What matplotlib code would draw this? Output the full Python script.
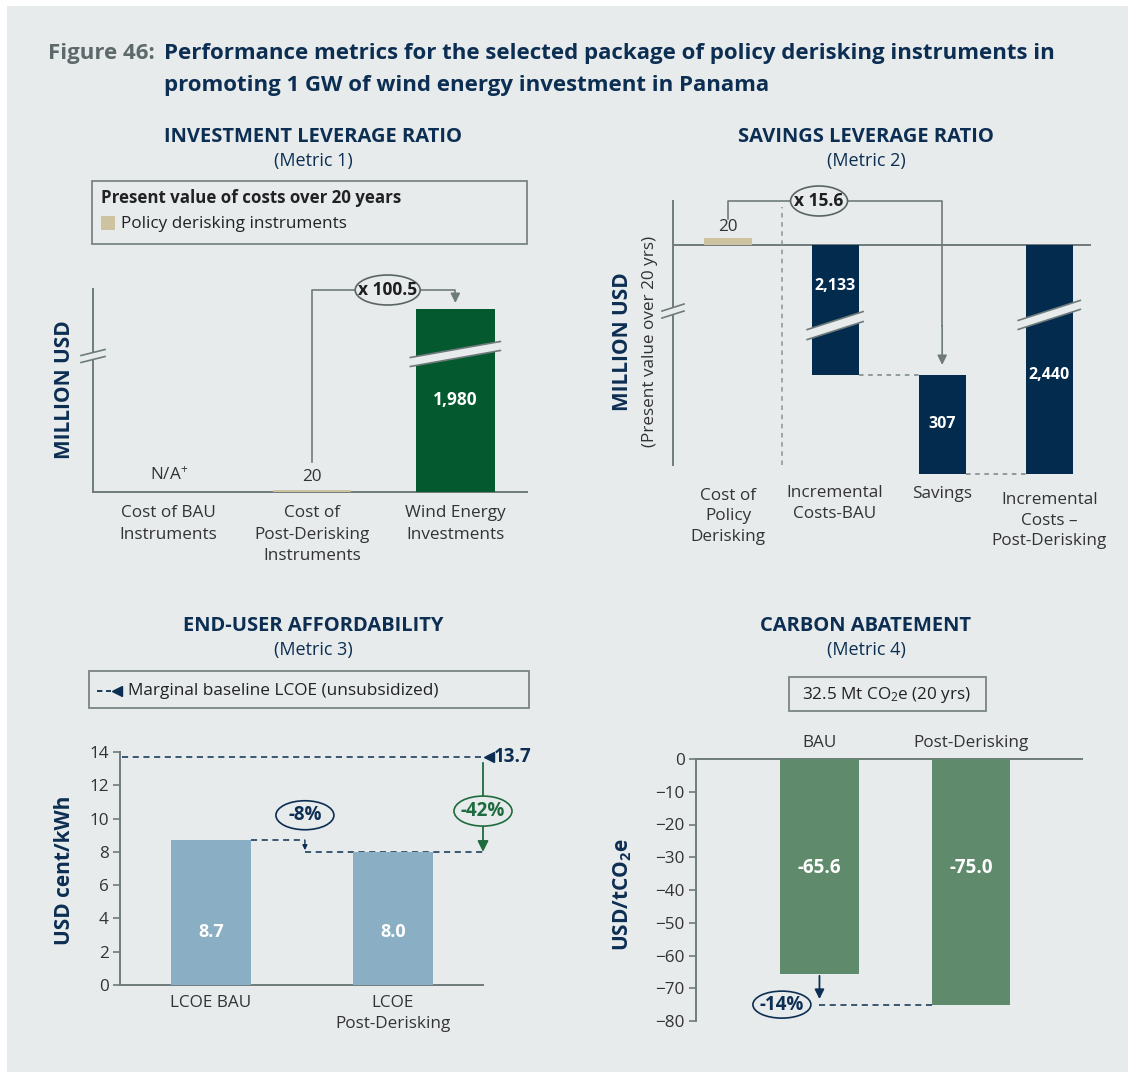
import numpy as np
import matplotlib.pyplot as plt
from matplotlib import patches, transforms
from matplotlib.lines import Line2D

plt.rcParams['font.family'] = ['Open Sans', 'DejaVu Sans']
plt.rcParams['mathtext.default'] = 'regular'

# ---------------- data ----------------
inv_labels = ['Cost of BAU\nInstruments', 'Cost of\nPost-Derisking\nInstruments', 'Wind Energy\nInvestments']
inv_values = [0, 20, 1980]          # BAU instruments: N/A
inv_value_text = [r'N/A$^{+}$', '20', '1,980']
inv_ratio = 'x 100.5'

sav_labels = ['Cost of\nPolicy\nDerisking', 'Incremental\nCosts-BAU', 'Savings',
              'Incremental\nCosts \u2013\nPost-Derisking']
sav_derisking = 20
sav_incr_bau = 2133
sav_savings = 307
sav_incr_post = 2440
sav_value_text = ['20', '2,133', '307', '2,440']
sav_ratio = 'x 15.6'

lcoe_labels = ['LCOE BAU', 'LCOE\nPost-Derisking']
lcoe_values = [8.7, 8.0]
lcoe_baseline = 13.7
lcoe_changes = ['-8%', '-42%']
lcoe_ticks = [0, 2, 4, 6, 8, 10, 12, 14]

abate_labels = ['BAU', 'Post-Derisking']
abate_values = [-65.6, -75.0]
abate_change = '-14%'
abate_ticks = [0, -10, -20, -30, -40, -50, -60, -70, -80]
abate_total = '32.5 Mt CO$_2$e (20 yrs)'

# ---------------- style ----------------
BG = '#E7EBEC'
NAVY = '#0C2E52'
GREY_T = '#5E6A6A'
LINE = '#6F7B7B'
TXT = '#333333'
DKGREEN = '#04592F'
TAN = '#CEC3A0'
NAVYBAR = '#022B4E'
BLUE = '#8AAFC5'
SAGE = '#5F8A6C'
GREEN = '#1E6B3D'
OVAL = '#5A6464'

W, H = 1128, 1072
fig = plt.figure(figsize=(W / 100, H / 100), dpi=100)
fig.patch.set_facecolor('white')
fig.add_artist(patches.Rectangle((7 / W, 0), 1, 1 - 6 / H, transform=fig.transFigure,
                                 facecolor=BG, edgecolor='none', zorder=0))


def fx(x):
    return x / W


def fy(y):
    return 1 - y / H


def pax(x0, y0, x1, y1):
    ax = fig.add_axes([fx(x0), fy(y1), (x1 - x0) / W, (y1 - y0) / H])
    ax.set_facecolor('none')
    for s in ax.spines.values():
        s.set_visible(False)
        s.set_color(LINE)
        s.set_linewidth(1.4)
    return ax


def ftext(x, y, s, **kw):
    fig.text(fx(x), fy(y), s, **kw)


def fbox(x0, y0, x1, y1):
    fig.add_artist(patches.Rectangle((fx(x0), fy(y1)), (x1 - x0) / W, (y1 - y0) / H,
                                     transform=fig.transFigure, facecolor='none',
                                     edgecolor='#7A8484', lw=1.3))


def oval(ax, x, y, w, h, text, color, edge=None, size=12.5):
    tr = fig.dpi_scale_trans + transforms.ScaledTranslation(x, y, ax.transData)
    ax.add_patch(patches.Ellipse((0, 0), w / 100, h / 100, transform=tr, facecolor=BG,
                                 edgecolor=edge or color, lw=1.2, clip_on=False, zorder=6))
    ax.text(x, y, text, ha='center', va='center', color=color, fontsize=size,
            weight='bold', zorder=7, clip_on=False)


def brk(ax, x, y, half_w, rise, gap):
    tr = fig.dpi_scale_trans + transforms.ScaledTranslation(x, y, ax.transData)
    hw, r, g = half_w / 100, rise / 200, gap / 200
    ax.add_patch(patches.Polygon([(-hw, -r - g), (hw, r - g), (hw, r + g), (-hw, -r + g)],
                                 closed=True, facecolor=BG, edgecolor='none', transform=tr,
                                 clip_on=False, zorder=5))
    for s in (-g, g):
        ax.add_line(Line2D([-hw, hw], [-r + s, r + s], color=LINE, lw=1.2, transform=tr,
                           clip_on=False, zorder=5))


# ---------------- title ----------------
ftext(48, 53, 'Figure 46:', color=GREY_T, fontsize=16, weight='bold', va='center')
ftext(164, 53, 'Performance metrics for the selected package of policy derisking instruments in',
      color=NAVY, fontsize=16, weight='bold', va='center')
ftext(164, 85, 'promoting 1 GW of wind energy investment in Panama',
      color=NAVY, fontsize=16, weight='bold', va='center')

for cx, cy, t, m in [(313, 137, 'INVESTMENT LEVERAGE RATIO', '(Metric 1)'),
                     (866, 137, 'SAVINGS LEVERAGE RATIO', '(Metric 2)'),
                     (313, 626, 'END-USER AFFORDABILITY', '(Metric 3)'),
                     (866, 626, 'CARBON ABATEMENT', '(Metric 4)')]:
    ftext(cx, cy, t, color=NAVY, fontsize=14.5, weight='bold', ha='center', va='center')
    ftext(cx, cy + 24, m, color=NAVY, fontsize=13, ha='center', va='center')

# ---------------- panel 1: investment leverage ----------------
fbox(92, 181, 527, 244)
ftext(101, 198, 'Present value of costs over 20 years', color='#222222', fontsize=12.2,
      weight='bold', va='center')
fig.add_artist(patches.Rectangle((fx(101), fy(230)), 14 / W, 14 / H, transform=fig.transFigure,
                                 facecolor=TAN, edgecolor='none'))
ftext(121, 224, 'Policy derisking instruments', color='#222222', fontsize=12.3, va='center')

ax1 = pax(93, 289, 527, 492)
x1 = np.arange(len(inv_labels))
ax1.set_xlim(-0.528, 2.5)
ax1.set_ylim(0, 2196)
ax1.spines['left'].set_visible(True)
ax1.spines['bottom'].set_visible(True)
ax1.set_xticks([])
ax1.set_yticks([])
ax1.bar(x1[1:], inv_values[1:], width=0.55, color=[TAN, DKGREEN], zorder=3)
ax1.annotate(inv_value_text[0], (x1[0], 0), xytext=(0, 8), textcoords='offset pixels',
             ha='center', va='bottom', fontsize=12.3, color=TXT)
ax1.annotate(inv_value_text[1], (x1[1], inv_values[1]), xytext=(0, 5), textcoords='offset pixels',
             ha='center', va='bottom', fontsize=12.3, color=TXT)
ax1.text(x1[2], inv_values[2] / 2, inv_value_text[2], ha='center', va='center', color='white',
         fontsize=12.5, weight='bold', zorder=4)
for xi, lab in zip(x1, inv_labels):
    ax1.text(xi, -0.065, lab, transform=ax1.get_xaxis_transform(), ha='center', va='top',
             fontsize=12.3, color=TXT, linespacing=1.45)
# bracket arrow
top1 = 2185
ax1.plot([x1[1], x1[1], x1[2], x1[2]], [325, top1, top1, top1 - 40], color=LINE, lw=1.2,
         clip_on=False, zorder=2)
ax1.annotate('', xy=(x1[2], inv_values[2] + 65), xytext=(x1[2], top1 - 40),
             arrowprops=dict(arrowstyle='-|>', color=LINE, lw=1.2, mutation_scale=14,
                             shrinkA=0, shrinkB=0), annotation_clip=False)
oval(ax1, 1.528, top1, 65, 30, inv_ratio, '#1E1E1E', edge=OVAL)
brk(ax1, x1[2], 1493, 45, 16, 9)
brk(ax1, -0.528, 1471, 12, 6, 7)
ftext(64, 390, 'MILLION USD', color=NAVY, fontsize=15, weight='bold', rotation=90,
      ha='center', va='center')

# ---------------- panel 2: savings leverage ----------------
A_, B_, K_ = 250.0, 1995.0, 15.0 / 1745.0
G_ = (B_ - A_) * K_


def fwd(v):
    v = np.asarray(v, dtype=float)
    a = np.abs(v)
    out = np.where(a <= A_, a, np.where(a <= B_, A_ + (a - A_) * K_, A_ + G_ + (a - B_)))
    return np.sign(v) * out


def inv(d):
    d = np.asarray(d, dtype=float)
    a = np.abs(d)
    out = np.where(a <= A_, a, np.where(a <= A_ + G_, A_ + (a - A_) / K_, B_ + (a - A_ - G_)))
    return np.sign(d) * out


ax2 = pax(673, 201, 1091, 474)
x2 = np.arange(len(sav_labels))
ax2.set_yscale('function', functions=(fwd, inv))
ax2.set_xlim(-0.514, 3.39)
ax2.set_ylim(-sav_incr_post, 136)
ax2.set_xticks([])
ax2.set_yticks([])
ax2.yaxis.set_minor_locator(plt.NullLocator())
ax2.axvline(-0.514, ymin=0.033, ymax=1, color=LINE, lw=1.4, clip_on=False)
ax2.axhline(0, color=LINE, lw=1.4, zorder=2)
ax2.axvline(0.5, ymin=0.033, ymax=0.978, color='#8A9494', lw=1.1, ls=(0, (3, 3)))
ax2.bar(x2[0], sav_derisking, width=0.44, color=TAN, zorder=3)
ax2.bar(x2[1], -sav_incr_bau, width=0.44, color=NAVYBAR, zorder=3)
ax2.bar(x2[2], -sav_savings, bottom=-sav_incr_bau, width=0.44, color=NAVYBAR, zorder=3)
ax2.bar(x2[3], -sav_incr_post, width=0.44, color=NAVYBAR, zorder=3)
ax2.plot([x2[1] + 0.22, x2[2] - 0.22], [-sav_incr_bau] * 2, color='#7A8585', lw=1.1,
         ls=(0, (3, 3)), zorder=2)
ax2.plot([x2[2] + 0.22, x2[3] - 0.22], [-sav_incr_post] * 2, color='#7A8585', lw=1.1,
         ls=(0, (3, 3)), zorder=2, clip_on=False)
ax2.annotate(sav_value_text[0], (x2[0], sav_derisking), xytext=(0, 3), textcoords='offset pixels',
             ha='center', va='bottom', fontsize=12.3, color=TXT)
ax2.annotate(sav_value_text[1], (x2[1], 0), xytext=(0, -41), textcoords='offset pixels',
             ha='center', va='center', fontsize=11.5, color='white', weight='bold', zorder=4)
ax2.text(x2[2], -sav_incr_bau - sav_savings / 2, sav_value_text[2], ha='center', va='center',
         fontsize=11.5, color='white', weight='bold', zorder=4)
ax2.text(x2[3], -sav_incr_bau, sav_value_text[3], ha='center', va='center',
         fontsize=11.5, color='white', weight='bold', zorder=4)
for xi, lab, off in zip(x2, sav_labels, [-0.05, -0.04, -0.045, -0.065]):
    ax2.text(xi, off, lab, transform=ax2.get_xaxis_transform(), ha='center', va='top',
             fontsize=12.3, color=TXT, linespacing=1.4)
top2 = 136
ax2.plot([x2[0], x2[0], x2[2], x2[2]], [81, top2, top2, -300], color=LINE, lw=1.2,
         clip_on=False, zorder=2)
ax2.annotate('', xy=(x2[2], -sav_incr_bau + 31), xytext=(x2[2], -300),
             arrowprops=dict(arrowstyle='-|>', color=LINE, lw=1.2, mutation_scale=14,
                             shrinkA=0, shrinkB=0), annotation_clip=False)
oval(ax2, 0.85, top2, 57, 30, sav_ratio, '#1E1E1E', edge=OVAL)
brk(ax2, x2[1], -258, 28, 18, 10)
brk(ax2, x2[3], -217, 31, 20, 9)
brk(ax2, -0.514, -205, 11, 7, 7)
ftext(623, 342, 'MILLION USD', color=NAVY, fontsize=15, weight='bold', rotation=90,
      ha='center', va='center')
ftext(650, 341, '(Present value over 20 yrs)', color=TXT, fontsize=12.3, rotation=90,
      ha='center', va='center')

# ---------------- panel 3: end-user affordability ----------------
fbox(89, 671, 529, 708)
fig.add_artist(Line2D([fx(97), fx(111)], [fy(691)] * 2, transform=fig.transFigure,
                      color=NAVY, lw=1.3, ls=(0, (3, 2))))
fig.add_artist(Line2D([fx(117)], [fy(691)], transform=fig.transFigure, color=NAVY,
                      marker='<', ms=7, lw=0))
ftext(128, 691, 'Marginal baseline LCOE (unsubsidized)', color='#222222', fontsize=12.4,
      va='center')

ax3 = pax(120, 752, 483, 985)
x3 = np.arange(len(lcoe_labels))
ax3.set_xlim(-0.5, 1.4945)
ax3.set_ylim(0, 14)
ax3.spines['left'].set_visible(True)
ax3.spines['bottom'].set_visible(True)
ax3.set_xticks([])
ax3.set_yticks(lcoe_ticks)
ax3.tick_params(axis='y', length=5, width=1.2, color=LINE, labelsize=12.3, labelcolor=TXT, pad=3)
ax3.bar(x3, lcoe_values, width=0.44, color=BLUE, zorder=3)
for xi, v in zip(x3, lcoe_values):
    ax3.text(xi, 3.2, f'{v:.1f}', ha='center', va='center', color='white', fontsize=13,
             weight='bold', zorder=4)
for xi, lab in zip(x3, lcoe_labels):
    ax3.text(xi, -0.045, lab, transform=ax3.get_xaxis_transform(), ha='center', va='top',
             fontsize=12.3, color=TXT, linespacing=1.4)
xr = 1.4945
ax3.plot([-0.49, xr], [lcoe_baseline] * 2, color=NAVY, lw=1.1, ls=(0, (4, 3)), clip_on=False)
ax3.plot([1.525], [lcoe_baseline], marker='<', ms=7, color=NAVY, clip_on=False)
ax3.annotate(f'{lcoe_baseline:.1f}', (1.525, lcoe_baseline), xytext=(5, 0),
             textcoords='offset pixels', ha='left', va='center', color=NAVY, fontsize=13.5,
             weight='bold', annotation_clip=False)
xm = 0.516
ax3.plot([x3[0] + 0.22, xm], [lcoe_values[0]] * 2, color=NAVY, lw=1.1, ls=(0, (4, 3)))
ax3.plot([xm, xr], [lcoe_values[1]] * 2, color=NAVY, lw=1.1, ls=(0, (4, 3)), zorder=2,
         clip_on=False)
ax3.annotate('', xy=(xm, lcoe_values[1] + 0.1), xytext=(xm, lcoe_values[0]),
             arrowprops=dict(arrowstyle='-|>', color=NAVY, lw=1.0, mutation_scale=7,
                             shrinkA=0, shrinkB=0))
oval(ax3, xm, 10.2, 58, 29, lcoe_changes[0], NAVY, size=13.5)
ax3.annotate('', xy=(xr, lcoe_values[1]), xytext=(xr, lcoe_baseline - 0.35),
             arrowprops=dict(arrowstyle='-|>', color=GREEN, lw=1.3, mutation_scale=16,
                             shrinkA=0, shrinkB=0), annotation_clip=False)
oval(ax3, xr, 10.45, 58, 30, lcoe_changes[1], GREEN, size=13.5)
ftext(64, 870, 'USD cent/kWh', color=NAVY, fontsize=15, weight='bold', rotation=90,
      ha='center', va='center')

# ---------------- panel 4: carbon abatement ----------------
fbox(789, 677, 986, 711)
ftext(887, 695, abate_total, color='#222222', fontsize=12.3, ha='center', va='center')

ax4 = pax(696, 759, 1082, 1021)
x4 = np.arange(len(abate_labels))
ax4.set_xlim(-0.815, 1.733)
ax4.set_ylim(-80, 0)
ax4.spines['left'].set_visible(True)
ax4.spines['top'].set_visible(True)
ax4.set_xticks([])
ax4.set_yticks(abate_ticks)
ax4.tick_params(axis='y', length=5, width=1.2, color=LINE, labelsize=12.3, labelcolor=TXT, pad=3)
ax4.bar(x4, abate_values, width=0.52, color=SAGE, zorder=3)
for xi, v in zip(x4, abate_values):
    ax4.text(xi, -33.3, f'{v:.1f}', ha='center', va='center', color='white', fontsize=13.5,
             weight='bold', zorder=4)
for xi, lab in zip(x4, abate_labels):
    ax4.annotate(lab, (xi, 0), xytext=(0, 8), textcoords='offset pixels', ha='center',
                 va='bottom', fontsize=12.3, color=TXT)
ax4.annotate('', xy=(x4[0], -73.3), xytext=(x4[0], abate_values[0] - 0.6),
             arrowprops=dict(arrowstyle='-|>', color=NAVY, lw=1.3, mutation_scale=14,
                             shrinkA=0, shrinkB=0))
ax4.plot([x4[0], x4[1] - 0.26], [abate_values[1]] * 2, color=NAVY, lw=1.1, ls=(0, (4, 3)))
oval(ax4, -0.248, abate_values[1], 58, 27, abate_change, NAVY, size=13.5)
ftext(623, 895, 'USD/tCO$_2$e', color=NAVY, fontsize=15, weight='bold', rotation=90,
      ha='center', va='center')

fig.savefig('out.png', dpi=100, facecolor=fig.get_facecolor())
